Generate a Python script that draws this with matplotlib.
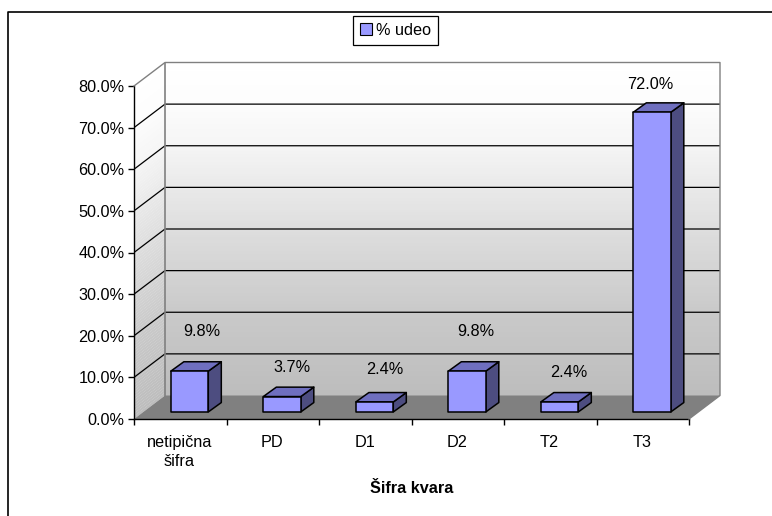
import matplotlib
matplotlib.use("Agg")
import matplotlib.pyplot as plt
from matplotlib.lines import Line2D
from matplotlib.patches import Patch, Polygon
import numpy as np

plt.rcParams['font.family'] = ['Liberation Sans', 'DejaVu Sans']
plt.rcParams['font.size'] = 11.7

categories = ['netipična\nšifra', 'PD', 'D1', 'D2', 'T2', 'T3']
udeo = [9.8, 3.7, 2.4, 9.8, 2.4, 72.0]
y_ticks = [0, 10, 20, 30, 40, 50, 60, 70, 80]

# label offsets from the bar's front top centre, in pixels at dpi 100
label_dx = [12, 10, 10, 9, 9, -2]
label_dy = [40, 29, 32, 40, 29, 28]

W, H = 772, 516
fig = plt.figure(figsize=(W/100, H/100), dpi=100)

# front plane: x 134..689, y 419..86, back wall shifted by 31, -23.5 px
px_cat = 92.5
px_pct = 333/80
depth_x = 31/px_cat
depth_y = 23.5/px_pct
ax = fig.add_axes([134/W, (H-419)/H, (555+31)/W, (333+23.5)/H])
ax.set_xlim(0, 6 + depth_x)
ax.set_ylim(0, 80 + depth_y)
ax.patch.set_visible(False)


def wall_colour(f):
    # grey of the wall, f=0 at the floor and f=1 at the top
    g = np.interp(f, [0, 0.25, 0.5, 0.75, 0.88, 1], [0.74, 0.79, 0.87, 0.96, 0.99, 1])
    return (g, g, g)


# walls with a vertical gradient, made of thin strips
levels = np.linspace(0, 80, 121)
for i in range(len(levels)-1):
    a, b = levels[i], levels[i+1]
    c = wall_colour((a + b)/160)
    ax.add_patch(Polygon([(depth_x, a+depth_y), (6+depth_x, a+depth_y), (6+depth_x, b+depth_y+0.05), (depth_x, b+depth_y+0.05)],
                         fc=c, ec='none', zorder=1))
    ax.add_patch(Polygon([(0, a), (depth_x, a+depth_y), (depth_x, b+depth_y+0.05), (0, b+0.05)],
                         fc=c, ec='none', zorder=1))

# floor
ax.add_patch(Polygon([(0, 0), (6, 0), (6+depth_x, depth_y), (depth_x, depth_y)], fc='#808080', ec='none', zorder=2))

# gridlines on both walls
for v in y_ticks[1:-1]:
    ax.plot([0, depth_x, 6+depth_x], [v, v+depth_y, v+depth_y], color='black', lw=0.9, zorder=3)

# grey outline of the walls
ax.plot([0, depth_x, 6+depth_x, 6+depth_x, 6], [80, 80+depth_y, 80+depth_y, depth_y, 0], color='#808080', lw=1, zorder=3, clip_on=False)
ax.plot([depth_x, depth_x], [depth_y, 80+depth_y], color='#808080', lw=1.2, zorder=3)

# bars, placed part way into the depth
bar_w = 0.405
bar_off_x = 0.30*depth_x
bar_off_y = 0.30*depth_y
bar_dx = 0.42*depth_x
bar_dy = 0.40*depth_y
for i, v in enumerate(udeo):
    x0 = i + 0.5 - bar_w/2 + bar_off_x
    x1 = x0 + bar_w
    y0 = bar_off_y
    y1 = y0 + v
    kw = dict(ec='black', lw=1.1, joinstyle='round', zorder=5)
    ax.add_patch(Polygon([(x1, y0), (x1+bar_dx, y0+bar_dy), (x1+bar_dx, y1+bar_dy), (x1, y1)], fc='#4D4D80', **kw))
    ax.add_patch(Polygon([(x0, y1), (x1, y1), (x1+bar_dx, y1+bar_dy), (x0+bar_dx, y1+bar_dy)], fc='#6F6FBF', **kw))
    ax.add_patch(Polygon([(x0, y0), (x1, y0), (x1, y1), (x0, y1)], fc='#9999FF', **kw))
    ax.annotate(f'{v:.1f}%', ((x0+x1)/2, y1), xytext=(label_dx[i]*0.72, label_dy[i]*0.72),
                textcoords='offset points', ha='center', va='center', color='black', zorder=6)

# axes lines and ticks
for s in ['top', 'right']:
    ax.spines[s].set_visible(False)
ax.spines['left'].set_bounds(0, 80)
ax.spines['bottom'].set_bounds(0, 6)
ax.spines['left'].set_linewidth(1)
ax.spines['bottom'].set_linewidth(1)
ax.set_yticks(y_ticks)
ax.set_yticklabels([f'{v:.1f}%' for v in y_ticks])
ax.set_xticks(range(7))
ax.set_xticklabels([])
ax.tick_params(axis='both', length=4, width=1, pad=3, labelcolor='black')
ax.xaxis.get_ticklines()[-2].set_color('#808080')
for i, c in enumerate(categories):
    ax.annotate(c, (i+0.5, 0), xytext=(-0.5, -11.5), textcoords='offset points', ha='center', va='top',
                linespacing=1.3, annotation_clip=False)

fig.text(412/W, (H-488.5)/H, 'Šifra kvara', fontweight='bold', ha='center', va='center')

# outer frame, only top and left are inside the picture
fig.add_artist(Line2D([7.5/W, 7.5/W, 1], [0, (H-12)/H, (H-12)/H], color='black', lw=1.2))

leg = fig.legend(handles=[Patch(fc='#9999FF', ec='black', lw=0.8, label='% udeo')], loc='center',
                 bbox_to_anchor=(395.5/W, (H-30.5)/H), fancybox=False, edgecolor='black', framealpha=1,
                 handlelength=0.75, handleheight=0.75, handletextpad=0.2, borderpad=0.45, borderaxespad=0)
leg.get_frame().set_linewidth(0.9)

fig.savefig('out.png', dpi=100)
